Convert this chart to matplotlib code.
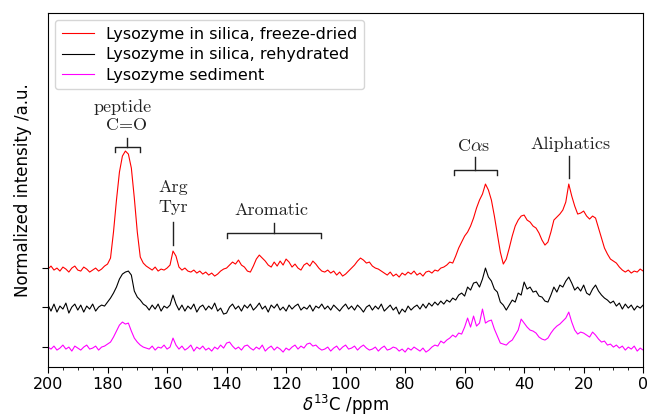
import numpy as np
import matplotlib
matplotlib.use('Agg')
import matplotlib.pyplot as plt
from matplotlib.ticker import MultipleLocator

# chemical shift axis, 1 ppm steps from 200 down to 0
ppm = np.arange(200, -1, -1)

freeze_dried = [
    -1, 2, -2, 0, -3, 1, -1, -4, 0, 2, -2, -3, 1, -1, -4, -2, 0, -3, -1,       # 200-182
    2, 4, 10, 36, 68, 96, 112, 117, 114, 100, 70, 36, 11, 5, 2,                # 181-167
    0, -2, 1, -3, -1, -2, 0,                                                   # 166-160
    3, 17, 12, 1,                                                              # 159-156
    -2, 0, -3, -4, -2, -5, -3, -6, -4, -7, -5, -8, -6, -3, -1,                 # 155-141
    0, 3, 6, 4, 8, 3, 1, -3, -4, 2, 9, 13, 10, 7, 3, 1, 6, 2, 7, 3,            # 140-121
    9, 6, 1, 4, 0, -2, 3, 5, 2, 7, 4, 0, -3, -4, -2,                           # 120-106
    -5, -3, -7, -4, -8, -6, -3,                                                # 105-99
    0, 3, 7, 10, 8, 5, 6, 2, 0, -1, -3,                                        # 98-88
    -5, -7, -4, -8, -6, -9, -5, -7, -4, -6, -3, -7, -5, -8, -4,                # 87-73
    -3, -5, -2, -3, 0, 1, 3, 6, 5, 12, 20, 26, 32, 36, 42, 50, 60, 68, 74,     # 72-54
    84, 78, 68, 52, 34, 16, 4, 9, 20, 32, 42, 48, 52, 53, 48, 46, 42, 40,      # 53-36
    35, 28, 23, 26, 36, 48, 51, 54, 58, 66, 84, 72, 62, 54, 55, 57, 52, 49,    # 35-18
    52, 50, 40, 30, 20, 14, 9, 7, 5, 1, -2, -4, -2, -5, -3, -4, -1, -3,        # 17-0
]

rehydrated = [
    2, -4, 3, -5, 1, -2, 4, -6, 0, 3, -3, 2, -5, 1, -2, 3, -4, 0, 2,           # 200-182
    1, 5, 9, 14, 20, 28, 33, 35, 36, 32, 16, 10, 7, 3, 1,                      # 181-167
    -3, 2, -2, 3, -4, 1, -1, 2,                                                # 166-159
    12, 3,                                                                     # 158-157
    -3, 2, -4, 1, -2, 3, -5, 0, 2, -3, 1, -2, 4, -4, -1, -7, -6, 0, 3, -2,     # 156-137
    1, -4, 2, -1, 3, -3, 0, 4, -2, 1, -5, 2, -1, 3, -3, 0, -4, 2, -2, 1,       # 136-117
    3, -3, 0, -2, 2, -4, 1, -1, 3,                                             # 116-108
    -2, 1, -3, 2, -1, -4, 0, 3, -2, 1, -3, 2, -1, -5, 0, 2, -3, 1, -2, 3,      # 107-88
    -4, -1, 2, -3, 0, -7, -2, -5, 1, -3, 0, 2, -2, 3, -1, 4, 1, 5, 2, 6,       # 87-68
    3, 7,                                                                      # 67-66
    5, 9, 7, 12, 14, 11, 20, 17, 24, 25, 20, 28, 39, 30, 26, 18, 15, 5, 2,     # 65-47
    -3, 2, 7, 5, 14, 12, 25, 18, 20, 15, 16, 11, 10, 6, 5, 12, 20, 15, 22,     # 46-28
    20, 26, 30, 24, 17, 20, 16, 22, 14, 12, 18, 22, 16, 12, 9, 7, 4, 6, 1,     # 27-9
    4, -2, 3, -1, 2, -3, 1, -1, 2,                                             # 8-0
]

sediment = [
    0, -2, 1, -3, -1, 2, -2, 0, -4, 1, -1, -3, 0, 2, -2, -1, 1, -3, 0,         # 200-182
    1, 3, 5, 10, 16, 22, 25, 23, 24, 16, 9, 5, 2, 0, -1,                       # 181-167
    -2, 1, -3, 0, -1, 2, -2, 0,                                                # 166-159
    9, 2,                                                                      # 158-157
    -2, 1, -3, -1, 2, -4, 0, -2, 1, -3, -1, -4, 0, -2, 2, -1, 4, 5, 1, -2,     # 156-137
    0, -3, 1, 2, -1, -3, 0, -2, 2, -4, -1, 1, -3, 0, -2, -5, -1, -3, 0, 2,     # 136-117
    -2, 1, -1, 3, 4, 1, 2, -1, -3,                                             # 116-108
    -2, 0, -4, -1, 1, -3, 0, 2, -2, -1, 1, -3, 0, 2, -1, -3, -2, 0, -4, -1,    # 107-88
    1, -3, -2, 0, -1, -4, -2, -5, -1, -3, 0, -2, -4, -1, -5, -3,               # 87-72
    0, 2, 1, 6, 4, 7, 9, 12, 10, 14, 13, 20, 29, 20, 31, 21, 24, 38, 24,       # 71-53
    26, 27, 18, 11, 4, 3, 2, 5, 7, 12, 17, 28, 24, 20, 17, 16, 14, 10, 8,      # 52-34
    7, 9, 14, 18, 21, 23, 26, 29, 35, 25, 17, 13, 15, 14, 12, 10, 15, 12, 8,   # 33-15
    5, 6, 2, 3, 0, 2, -1, 1, -3, 0, -2, 1, -4, -1, -3,                         # 14-0
]

labels = ['Lysozyme in silica, freeze-dried',
          'Lysozyme in silica, rehydrated',
          'Lysozyme sediment']
colors = ['#ff0000', '#000000', '#ff00ff']
offsets = [79, 40, 0]

fig, ax = plt.subplots(figsize=(6.49, 4.2), dpi=100)
fig.subplots_adjust(left=0.074, right=0.991, top=0.969, bottom=0.126)

for spec, lab, col, off in zip([freeze_dried, rehydrated, sediment], labels, colors, offsets):
    ax.plot(ppm, np.array(spec) + off, color=col, lw=0.8, label=lab)

ax.set_xlim(200, 0)
ax.set_ylim(-20, 334)
ax.xaxis.set_major_locator(MultipleLocator(20))
ax.xaxis.set_minor_locator(MultipleLocator(5))
ax.set_yticks(offsets)
ax.set_yticklabels([])
ax.tick_params(axis='x', which='major', length=4, labelsize=11.5, pad=3)
ax.tick_params(axis='x', which='minor', length=2.5)
ax.tick_params(axis='y', length=4)
ax.set_xlabel(r'$\delta^{13}$C /ppm', fontsize=12, labelpad=1)
ax.set_ylabel('Normalized intensity /a.u.', fontsize=12)

ax.legend(loc='upper left', fontsize=11.5, handlelength=2.0,
          borderaxespad=0.45, labelspacing=0.35)

# peak assignments, drawn in Computer Modern
tk = dict(color='#222222', lw=1.0)
txt = dict(ha='center', va='center', fontsize=13, family='cmr10',
           math_fontfamily='cm', color='#222222')

def bracket(x0, x1, y, leg, stem):
    ax.plot([x0, x0, x1, x1], [y - leg, y, y, y - leg], **tk)
    xm = (x0 + x1) / 2
    ax.plot([xm, xm], [y, y + stem], **tk)

bracket(177.5, 169.1, 200, 5, 9)
ax.text(174.8, 240, 'peptide', **txt)
ax.text(173.5, 222, 'C=O', **txt)

ax.plot([157.9, 157.9], [102, 125], **tk)
ax.text(157.9, 160, 'Arg', **txt)
ax.text(157.9, 140, 'Tyr', **txt)

bracket(140, 108.3, 113.7, 5, 10.6)
ax.text(124.8, 137, 'Aromatic', **txt)

bracket(63.5, 49.2, 177, 5, 12.7)
ax.text(57.1, 201, r'C$\alpha$s', **txt)

ax.plot([24.8, 24.8], [168.7, 191], **tk)
ax.text(24.5, 203, 'Aliphatics', **txt)

fig.savefig('out.png', dpi=100)
